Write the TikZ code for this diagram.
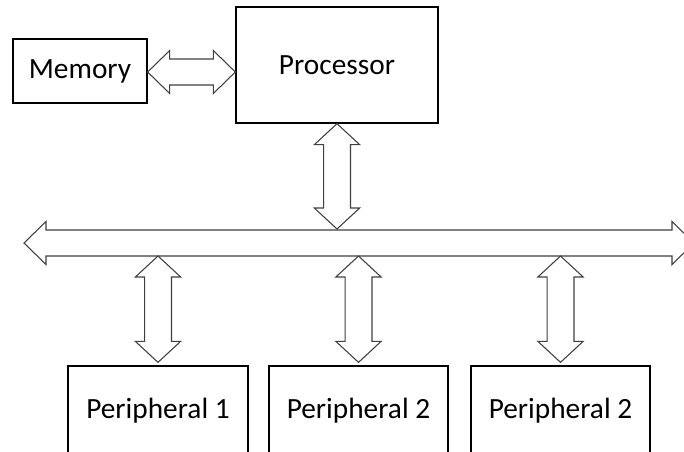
\documentclass[tikz,border=0pt]{standalone}
\usepackage{fontspec}
\setmainfont{Carlito}
\usetikzlibrary{calc}

% Block double arrows: horizontal (#1 left tip, #2 right tip) and vertical (#1 top tip, #2 bottom tip)
\newcommand\dblH[2]{%
  \draw[blockarrow] let \p1=(#1), \p2=(#2) in
    (\x1,\y1) -- (\x1+16.5pt,\y1+16.125pt) -- (\x1+16.5pt,\y1+9.75pt)
    -- (\x2-16.5pt,\y1+9.75pt) -- (\x2-16.5pt,\y1+16.125pt) -- (\x2,\y1)
    -- (\x2-16.5pt,\y1-16.125pt) -- (\x2-16.5pt,\y1-9.75pt)
    -- (\x1+16.5pt,\y1-9.75pt) -- (\x1+16.5pt,\y1-16.125pt) -- cycle;}
\newcommand\dblV[2]{%
  \draw[blockarrow] let \p1=(#1), \p2=(#2) in
    (\x1,\y1) -- (\x1+17pt,\y1-15.75pt) -- (\x1+10.1pt,\y1-15.75pt)
    -- (\x1+10.1pt,\y2+15.75pt) -- (\x1+17pt,\y2+15.75pt) -- (\x1,\y2)
    -- (\x1-17pt,\y2+15.75pt) -- (\x1-10.1pt,\y2+15.75pt)
    -- (\x1-10.1pt,\y1-15.75pt) -- (\x1-17pt,\y1-15.75pt) -- cycle;}

\begin{document}
\begin{tikzpicture}[x=0.75pt,y=-0.75pt,
  unitbox/.style={draw=black, line width=1pt, rectangle, inner sep=0pt,
    font=\fontsize{22}{26}\selectfont},
  blockarrow/.style={draw=black!75, line width=0.8pt, fill=white, line join=miter}]
\clip (0,0) rectangle (684,451);

% Units
\node[unitbox, minimum width=134*0.75pt, minimum height=64*0.75pt] (mem) at (80,71) {Memory};
\node[unitbox, minimum width=202*0.75pt, minimum height=116*0.75pt] (proc) at (337,65) {Processor};
\node[unitbox, minimum width=180*0.75pt, minimum height=90*0.75pt] (p1) at (158,411) {Peripheral 1};
\node[unitbox, minimum width=179*0.75pt, minimum height=90*0.75pt] (p2) at (358.5,411) {Peripheral 2};
\node[unitbox, minimum width=179*0.75pt, minimum height=90*0.75pt] (p3) at (560.5,411) {Peripheral 2};

% System bus
\coordinate (busL) at (24,243);
\coordinate (busR) at (694,243);
\dblH{busL}{busR}

% Memory <-> Processor
\coordinate (mpL) at ($(mem.east)+(0,1)$);
\coordinate (mpR) at (mpL -| proc.west);
\dblH{mpL}{mpR}

% Processor <-> bus
\coordinate (pbB) at ($(proc.south |- busL)+(0,-14)$);
\dblV{proc.south}{pbB}

% Bus <-> peripherals
\foreach \q in {p1,p2,p3}{
  \coordinate (\q T) at ($(\q.north |- busL)+(0,13)$);
  \coordinate (\q B) at ($(\q.north)+(0,-3)$);
  \dblV{\q T}{\q B}
}
\end{tikzpicture}
\end{document}
